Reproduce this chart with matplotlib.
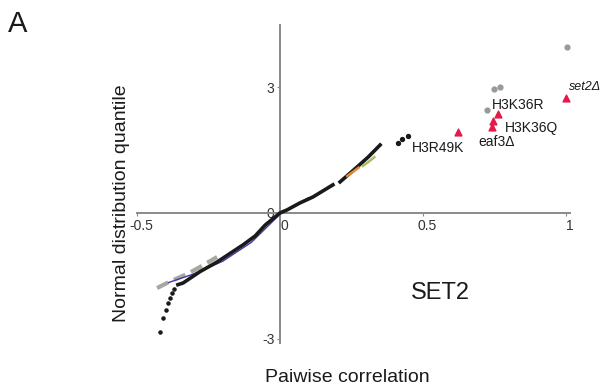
import numpy as np
import matplotlib.pyplot as plt
import matplotlib.transforms as mtransforms

plt.rcParams['font.family'] = ['Liberation Sans', 'DejaVu Sans']

# observed pairwise correlations (sorted) vs normal quantile, SET2 group
core_r = [-0.357, -0.339, -0.280, -0.220, -0.129, -0.087, -0.052, 0.0, 0.024, 0.070, 0.115, 0.185]
core_q = [-1.71, -1.67, -1.40, -1.17, -0.76, -0.55, -0.29, 0.0, 0.07, 0.24, 0.38, 0.67]
upper_r = [0.210, 0.262, 0.308, 0.350]
upper_q = [0.74, 1.05, 1.33, 1.62]
tail_r = [-0.420, -0.409, -0.399, -0.392, -0.385, -0.378, -0.371]
tail_q = [-2.83, -2.50, -2.31, -2.14, -2.02, -1.90, -1.81]
h3r49k_r = [0.413, 0.427, 0.448]
h3r49k_q = [1.67, 1.76, 1.83]

# background pairs from unrelated mutants
bg_low_r = [-0.430, -0.380, -0.320, -0.270, -0.220]
bg_low_q = [-1.79, -1.62, -1.44, -1.25, -1.05]
bg_high_r = [0.724, 0.748, 0.769, 1.003]
bg_high_q = [2.45, 2.95, 3.00, 3.95]
blue_r = [-0.39, -0.30, -0.20, -0.10, 0.0, 0.10]
blue_q = [-1.66, -1.45, -1.15, -0.70, -0.03, 0.36]
orange_r = [0.235, 0.255, 0.275]
orange_q = [0.88, 0.98, 1.08]
green_r = [0.290, 0.310, 0.330]
green_q = [1.12, 1.22, 1.33]

# highlighted SET2 complex pairs
hit_r = [0.622, 0.741, 0.745, 0.762, 1.000]
hit_q = [1.93, 2.05, 2.19, 2.36, 2.74]

fig = plt.figure(figsize=(6.1, 3.9), dpi=100)
ax = fig.add_axes([137/610, 1 - 343/390, 433/610, 318/390])

ax.plot(bg_low_r, bg_low_q, color='#a8a8a0', lw=3, ls=(0, (3, 1.5)), zorder=2)
ax.plot(blue_r, blue_q, color='#3a3ab0', lw=1.0, zorder=2)
ax.plot(core_r, core_q, color='#1a1a1a', lw=2.6, zorder=3)
ax.plot(upper_r, upper_q, color='#1a1a1a', lw=2.6, zorder=3)
ax.plot(orange_r, orange_q, color='#e08a30', lw=1.8, zorder=4)
ax.plot(green_r, green_q, color='#a8c060', lw=1.8, zorder=4)
ax.scatter(tail_r, tail_q, s=5, color='#1a1a1a', zorder=3)
ax.scatter(h3r49k_r, h3r49k_q, s=8, color='#1a1a1a', zorder=3)
ax.scatter(bg_high_r, bg_high_q, s=12, color='#999999', zorder=3)
ax.scatter(hit_r, hit_q, s=24, marker='^', color='#e8174a', zorder=5)

txt = dict(fontsize=10, color='#1a1a1a')
ax.text(0.462, 1.55, 'H3R49K', va='center', ha='left', **txt)
ax.text(0.692, 1.69, 'eaf3\u0394', va='center', ha='left', **txt)
ax.text(0.787, 2.02, 'H3K36Q', va='center', ha='left', **txt)
ax.text(0.741, 2.57, 'H3K36R', va='center', ha='left', **txt)
ax.text(1.012, 3.0, 'set2\u0394', va='center', ha='left', style='italic', fontsize=9, color='#1a1a1a')
ax.text(0.56, -1.9, 'SET2', va='center', ha='center', fontsize=17, color='#1a1a1a')

ax.set_xlim(-0.5, 1.014)
ax.set_ylim(-3.10, 4.48)
for side in ['left', 'bottom']:
    ax.spines[side].set_position(('data', 0))
    ax.spines[side].set_color('#8a8a8a')
    ax.spines[side].set_linewidth(1.4)
ax.spines['top'].set_visible(False)
ax.spines['right'].set_visible(False)

ax.set_xticks([-0.5, 0, 0.5, 1])
ax.set_xticklabels(['-0.5', '0', '0.5', '1'])
ax.set_yticks([-3, 0, 3])
ax.set_yticklabels(['-3', '0', '3'])
ax.tick_params(length=2, width=0.8, color='#8a8a8a', labelsize=10, labelcolor='#333333', pad=2)
# nudge x labels a little to the right of their ticks
shift = mtransforms.ScaledTranslation(4/100, 0, fig.dpi_scale_trans)
for lab in ax.get_xticklabels():
    lab.set_transform(lab.get_transform() + shift)

fig.text(347/610, 1 - 378/390, 'Paiwise correlation', ha='center', va='center', fontsize=14, color='#1a1a1a')
fig.text(121/610, 1 - 203/390, 'Normal distribution quantile', ha='center', va='center',
         rotation=90, fontsize=14, color='#1a1a1a')
fig.text(18/610, 1 - 24/390, 'A', ha='center', va='center', fontsize=21, color='#1a1a1a')

fig.savefig('out.png', dpi=100)
